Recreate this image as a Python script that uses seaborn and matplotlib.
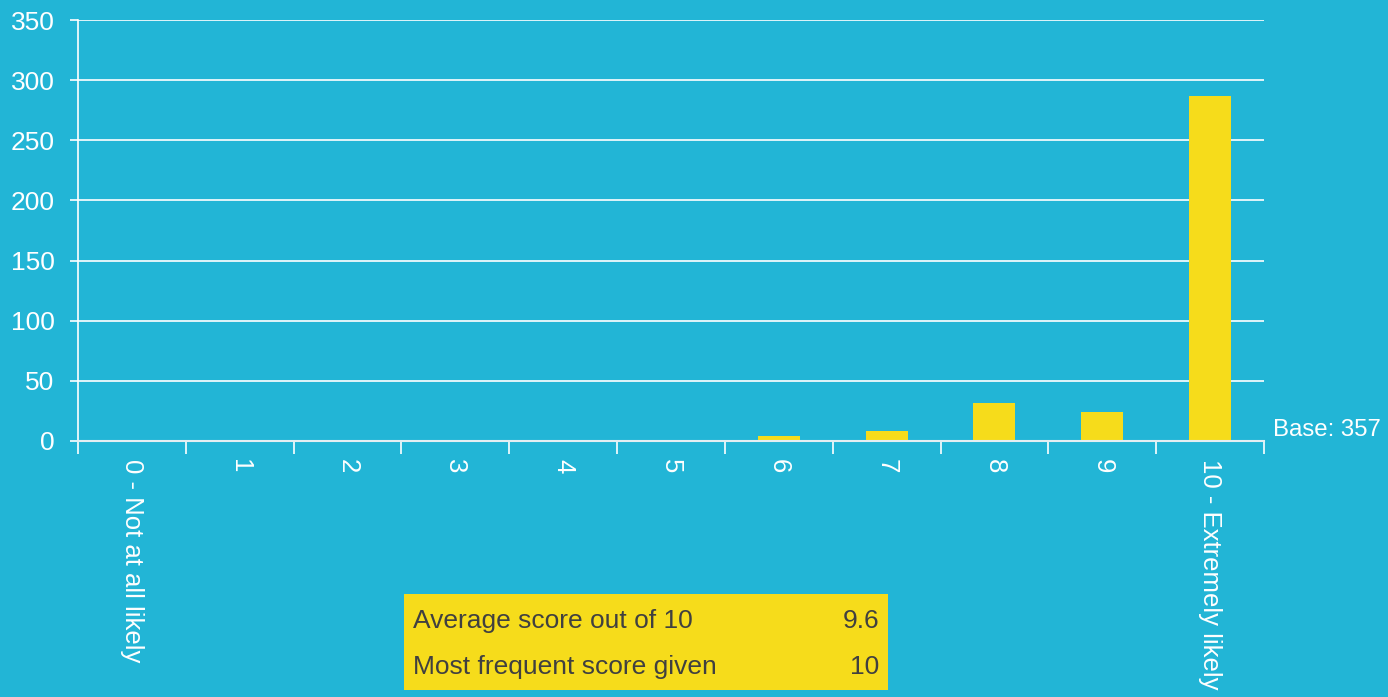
import seaborn as sns
import matplotlib.pyplot as plt
import matplotlib.patches as patches
import pandas as pd

# Dados
categorias = ['0 - Not at all likely', '1', '2', '3', '4', '5', '6', '7', '8', '9',
              '10 - Extremely likely']
respostas = [0, 0, 0, 0, 1, 1, 4, 8, 32, 24, 287]
resumo_rotulos = ['Average score out of 10', 'Most frequent score given']
resumo_valores = ['9.6', '10']
base_texto = 'Base: 357'

fundo = '#22B5D6'
amarelo = '#F6DC1B'

sns.set_style('white')
plt.rcParams['font.family'] = ['Liberation Sans', 'DejaVu Sans']

df = pd.DataFrame({'cat': categorias, 'n': respostas})

fig = plt.figure(figsize=(13.88, 6.97), dpi=100)
fig.patch.set_facecolor(fundo)
ax = fig.add_axes([78 / 1388, 1 - 441 / 697, (1264 - 78) / 1388, (441 - 20) / 697])
ax.set_facecolor(fundo)

sns.barplot(data=df, x='cat', y='n', color=amarelo, width=0.39, saturation=1,
            linewidth=0, edgecolor='none', ax=ax)

ax.set_ylim(0, 350)
ax.set_xlim(-0.5, len(categorias) - 0.5)
ax.set_yticks(range(0, 351, 50))
ax.yaxis.grid(True, color='white', linewidth=1.2)
ax.set_axisbelow(True)
ax.set_xlabel('')
ax.set_ylabel('')

for lado in ['top', 'right']:
    ax.spines[lado].set_visible(False)
ax.spines['left'].set_color('white')
ax.spines['left'].set_linewidth(1.2)
ax.spines['bottom'].set_color('#e4eef2')
ax.spines['bottom'].set_linewidth(1.5)

ax.tick_params(axis='y', colors='white', labelsize=19, length=6, width=1.2, direction='out', left=True, pad=11)
ax.tick_params(axis='x', which='major', length=0, colors='white', labelsize=18.5, pad=13)
ax.set_xticks([i - 0.5 for i in range(len(categorias) + 1)], minor=True)
ax.tick_params(axis='x', which='minor', length=9, width=1.2, color='white', direction='out', bottom=True)
plt.setp(ax.get_xticklabels(), rotation=270, va='top', ha='center')

ax.text(1.008, 0.0, base_texto, transform=ax.transAxes, color='white', fontsize=17.3,
        va='bottom', ha='left')

# Caixa de resumo
fig.patches.append(patches.Rectangle((404 / 1388, 1 - 690 / 697), 484 / 1388, 96 / 697,
                                     transform=fig.transFigure, facecolor=amarelo,
                                     edgecolor='none', zorder=0))
for i, (rot, val) in enumerate(zip(resumo_rotulos, resumo_valores)):
    y = 1 - (621 + i * 46) / 697
    fig.text(413 / 1388, y, rot, color='#404040', fontsize=19, va='center', ha='left')
    fig.text(879 / 1388, y, val, color='#404040', fontsize=19, va='center', ha='right')

fig.savefig('out.png', dpi=100, facecolor=fundo)
